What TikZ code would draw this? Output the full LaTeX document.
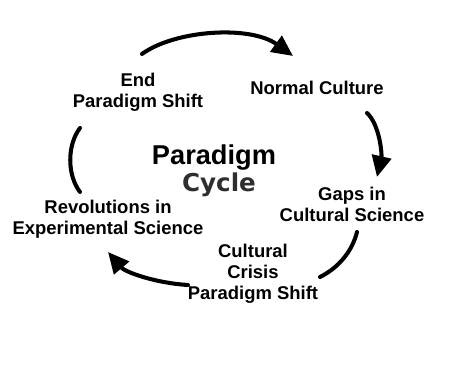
\documentclass[tikz,border=0pt]{standalone}
\usepackage{fontspec}
\setmainfont{Liberation Sans}
\newfontfamily\cyclefont{DejaVu Sans}
\usetikzlibrary{arrows.meta}
\definecolor{cyclegray}{HTML}{2E2E2E}

\begin{document}
\begin{tikzpicture}[
    x=0.02cm, y=-0.02cm,
    stage/.style={align=center, inner sep=0pt, font=\fontsize{10.5}{12}\selectfont\bfseries},
    title/.style={inner sep=0pt, font=\fontsize{15.5}{18}\selectfont\bfseries},
    subtitle/.style={inner sep=0pt, text=cyclegray, font=\cyclefont\fontsize{14}{16}\selectfont\bfseries},
    cycarrow/.style={line width=2.3pt, line cap=round, -{Triangle[length=12pt, width=11pt]}},
    cycline/.style={line width=2.3pt, line cap=round}
]
\useasboundingbox (0,0) rectangle (451,371);

% Centre title
\node[title] (para) at (214,158) {Paradigm};
\node[subtitle] (cyc) at (219,185) {Cycle};

% Stages of the cycle
\node[stage] (endshift) at (138,92) {End\\Paradigm Shift};
\node[stage] (normal) at (317,88) {Normal Culture};
\node[stage] (gaps) at (352,204) {Gaps in\\Cultural Science};
\node[stage] (crisis) at (253,274) {Cultural\\Crisis\\Paradigm Shift};
\node[stage] (revol) at (108,219) {Revolutions in\\Experimental Science};

% Ends of the arcs
\coordinate (a1) at (142,54);
\coordinate (b1) at (293,56);
\coordinate (a2) at (367,113);
\coordinate (b2) at (377,177);
\coordinate (a3) at (357,232);
\coordinate (b3) at (320,277);
\coordinate (a4) at (188,285);
\coordinate (b4) at (108,252);
\coordinate (a5) at (80,128);
\coordinate (b5) at (80,192);

% Arcs round the cycle
\draw[cycarrow] (a1) .. controls (175,30) and (250,25) .. (b1);
\draw[cycarrow] (a2) .. controls (380,125) and (382,155) .. (b2);
\draw[cycline] (a3) .. controls (352,252) and (338,268) .. (b3);
\draw[cycarrow] (a4) .. controls (155,283) and (125,272) .. (b4);
\draw[cycline] (a5) .. controls (67,145) and (67,175) .. (b5);

\end{tikzpicture}
\end{document}
